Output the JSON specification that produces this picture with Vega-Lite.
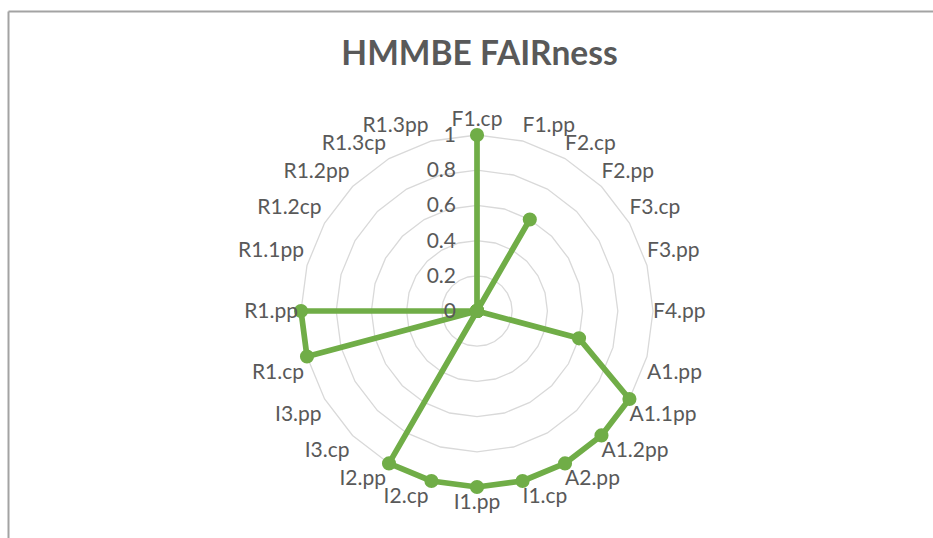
{
  "$schema": "https://vega.github.io/schema/vega-lite/v6.json",
  "width": 925,
  "height": 527,
  "autosize": {"type": "none"},
  "padding": {"left": 8, "top": 11, "right": 0, "bottom": 0},
  "background": "white",
  "config": {
    "view": {"stroke": null},
    "font": "Lato",
    "axis": {"labels": false, "ticks": false, "grid": false, "domain": true, "domainColor": "#a3a3a3", "domainWidth": 2}
  },
  "title": {
    "text": "HMMBE FAIRness",
    "font": "Lato",
    "fontSize": 33.5,
    "fontWeight": "bold",
    "color": "#595959",
    "anchor": "middle",
    "frame": "group",
    "baseline": "alphabetic",
    "offset": -54,
    "dx": 9,
    "dy": 33
  },
  "data": {
    "values": [
      {"cat": "F1.cp", "v": 1},
      {"cat": "F1.pp", "v": 0},
      {"cat": "F2.cp", "v": 0.6},
      {"cat": "F2.pp", "v": 0},
      {"cat": "F3.cp", "v": 0},
      {"cat": "F3.pp", "v": 0},
      {"cat": "F4.pp", "v": 0},
      {"cat": "A1.pp", "v": 0.6},
      {"cat": "A1.1pp", "v": 1},
      {"cat": "A1.2pp", "v": 1},
      {"cat": "A2.pp", "v": 1},
      {"cat": "I1.cp", "v": 1},
      {"cat": "I1.pp", "v": 1},
      {"cat": "I2.cp", "v": 1},
      {"cat": "I2.pp", "v": 1},
      {"cat": "I3.cp", "v": 0},
      {"cat": "I3.pp", "v": 0},
      {"cat": "R1.cp", "v": 1},
      {"cat": "R1.pp", "v": 1},
      {"cat": "R1.1pp", "v": 0},
      {"cat": "R1.2cp", "v": 0},
      {"cat": "R1.2pp", "v": 0},
      {"cat": "R1.3cp", "v": 0},
      {"cat": "R1.3pp", "v": 0}
    ]
  },
  "transform": [
    {"window": [{"op": "row_number", "as": "idx"}]},
    {"calculate": "(datum.idx - 1) * PI / 12", "as": "ang"},
    {"calculate": "sin(datum.ang)", "as": "sx"},
    {"calculate": "cos(datum.ang)", "as": "cy"},
    {"calculate": "datum.v * datum.sx", "as": "px"},
    {"calculate": "datum.v * datum.cy", "as": "py"}
  ],
  "layer": [
    {
      "transform": [
        {"calculate": "[0.2, 0.4, 0.6, 0.8, 1]", "as": "lv"},
        {"flatten": ["lv"]},
        {"calculate": "datum.lv * datum.sx", "as": "gx"},
        {"calculate": "datum.lv * datum.cy", "as": "gy"}
      ],
      "mark": {"type": "line", "interpolate": "linear-closed", "stroke": "#d9d9d9", "strokeWidth": 1.3},
      "encoding": {
        "x": {"field": "gx", "type": "quantitative", "scale": {"domain": [-2.6648, 2.5909], "nice": false, "zero": false}, "axis": {"orient": "top", "title": null}},
        "y": {"field": "gy", "type": "quantitative", "scale": {"domain": [-1.2898, 1.7045], "nice": false, "zero": false}, "axis": {"orient": "left", "title": null}},
        "detail": {"field": "lv", "type": "nominal"},
        "order": {"field": "idx", "type": "quantitative"}
      }
    },
    {
      "mark": {"type": "line", "interpolate": "linear-closed", "stroke": "#70ad47", "strokeWidth": 5.7, "strokeJoin": "round"},
      "encoding": {
        "x": {"field": "px", "type": "quantitative", "scale": {"domain": [-2.6648, 2.5909], "nice": false, "zero": false}, "axis": {"orient": "top", "title": null}},
        "y": {"field": "py", "type": "quantitative", "scale": {"domain": [-1.2898, 1.7045], "nice": false, "zero": false}, "axis": {"orient": "left", "title": null}},
        "order": {"field": "idx", "type": "quantitative"}
      }
    },
    {
      "mark": {"type": "circle", "size": 200, "color": "#70ad47", "opacity": 1},
      "encoding": {
        "x": {"field": "px", "type": "quantitative", "axis": {"orient": "top", "title": null}},
        "y": {"field": "py", "type": "quantitative", "axis": {"orient": "left", "title": null}}
      }
    },
    {
      "data": {"values": [{"t": 0}, {"t": 0.2}, {"t": 0.4}, {"t": 0.6}, {"t": 0.8}, {"t": 1}]},
      "transform": [],
      "mark": {"type": "text", "align": "right", "baseline": "middle", "dx": -21, "dy": 1, "font": "Lato", "fontSize": 21, "color": "#595959"},
      "encoding": {
        "x": {"datum": 0, "type": "quantitative", "axis": {"orient": "top", "title": null}},
        "y": {"field": "t", "type": "quantitative", "axis": {"orient": "left", "title": null}},
        "text": {"field": "t", "type": "quantitative", "format": ".1~f"}
      }
    },
    {
      "transform": [{"filter": "datum.idx == 1"}],
      "mark": {"type": "text", "align": "center", "baseline": "alphabetic", "dy": -8.5, "font": "Lato", "fontSize": 21, "color": "#595959"},
      "encoding": {"x": {"field": "sx", "type": "quantitative", "axis": {"orient": "top", "title": null}}, "y": {"field": "cy", "type": "quantitative", "axis": {"orient": "left", "title": null}}, "text": {"field": "cat"}}
    },
    {
      "transform": [{"filter": "datum.idx >= 2 && datum.idx <= 6"}],
      "mark": {"type": "text", "align": "left", "baseline": "alphabetic", "dy": -8.5, "font": "Lato", "fontSize": 21, "color": "#595959"},
      "encoding": {"x": {"field": "sx", "type": "quantitative", "axis": {"orient": "top", "title": null}}, "y": {"field": "cy", "type": "quantitative", "axis": {"orient": "left", "title": null}}, "text": {"field": "cat"}}
    },
    {
      "transform": [{"filter": "datum.idx == 7"}],
      "mark": {"type": "text", "align": "left", "baseline": "middle", "dy": 1, "font": "Lato", "fontSize": 21, "color": "#595959"},
      "encoding": {"x": {"field": "sx", "type": "quantitative", "axis": {"orient": "top", "title": null}}, "y": {"field": "cy", "type": "quantitative", "axis": {"orient": "left", "title": null}}, "text": {"field": "cat"}}
    },
    {
      "transform": [{"filter": "datum.idx >= 8 && datum.idx <= 12"}],
      "mark": {"type": "text", "align": "left", "baseline": "alphabetic", "dy": 22, "font": "Lato", "fontSize": 21, "color": "#595959"},
      "encoding": {"x": {"field": "sx", "type": "quantitative", "axis": {"orient": "top", "title": null}}, "y": {"field": "cy", "type": "quantitative", "axis": {"orient": "left", "title": null}}, "text": {"field": "cat"}}
    },
    {
      "transform": [{"filter": "datum.idx == 13"}],
      "mark": {"type": "text", "align": "center", "baseline": "alphabetic", "dy": 22, "font": "Lato", "fontSize": 21, "color": "#595959"},
      "encoding": {"x": {"field": "sx", "type": "quantitative", "axis": {"orient": "top", "title": null}}, "y": {"field": "cy", "type": "quantitative", "axis": {"orient": "left", "title": null}}, "text": {"field": "cat"}}
    },
    {
      "transform": [{"filter": "datum.idx >= 14 && datum.idx <= 18"}],
      "mark": {"type": "text", "align": "right", "baseline": "alphabetic", "dx": -3, "dy": 22, "font": "Lato", "fontSize": 21, "color": "#595959"},
      "encoding": {"x": {"field": "sx", "type": "quantitative", "axis": {"orient": "top", "title": null}}, "y": {"field": "cy", "type": "quantitative", "axis": {"orient": "left", "title": null}}, "text": {"field": "cat"}}
    },
    {
      "transform": [{"filter": "datum.idx == 19"}],
      "mark": {"type": "text", "align": "right", "baseline": "middle", "dx": -3, "dy": 1, "font": "Lato", "fontSize": 21, "color": "#595959"},
      "encoding": {"x": {"field": "sx", "type": "quantitative", "axis": {"orient": "top", "title": null}}, "y": {"field": "cy", "type": "quantitative", "axis": {"orient": "left", "title": null}}, "text": {"field": "cat"}}
    },
    {
      "transform": [{"filter": "datum.idx >= 20"}],
      "mark": {"type": "text", "align": "right", "baseline": "alphabetic", "dx": -3, "dy": -8.5, "font": "Lato", "fontSize": 21, "color": "#595959"},
      "encoding": {"x": {"field": "sx", "type": "quantitative", "axis": {"orient": "top", "title": null}}, "y": {"field": "cy", "type": "quantitative", "axis": {"orient": "left", "title": null}}, "text": {"field": "cat"}}
    }
  ]
}
